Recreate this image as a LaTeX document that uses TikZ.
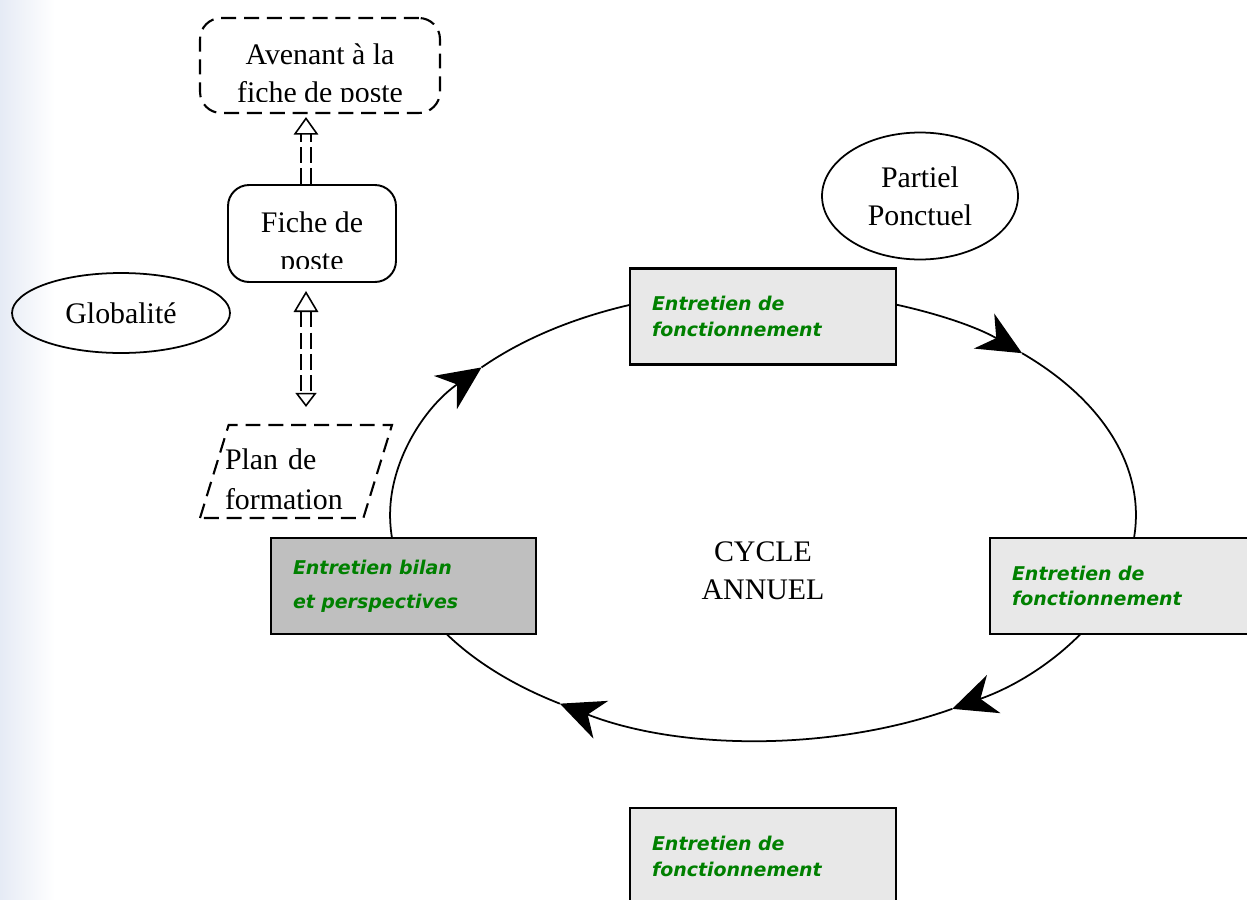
\documentclass[tikz,border=0pt]{standalone}
\usepackage{fontspec}
\setmainfont{Liberation Serif}
\newfontfamily\entfont{DejaVu Sans}
\usetikzlibrary{arrows.meta, calc, shapes.geometric}
\definecolor{entgreen}{rgb}{0.0, 0.5, 0.0}
\definecolor{fonctgrey}{rgb}{0.91, 0.91, 0.91}
\definecolor{bilangrey}{rgb}{0.75, 0.75, 0.75}
\definecolor{stripblue}{rgb}{0.9, 0.92, 0.96}

\begin{document}
\begin{tikzpicture}[x=0.02cm, y=0.02cm]
		\useasboundingbox (0,0) rectangle (1247,-899);
		\shade[left color=stripblue, right color=white] (0,0) rectangle (55,-899);
		
		\coordinate (cyc) at (763,-515);
		\begin{scope}[cyclearc/.style={line width=1pt, -{Stealth[length=25pt, width=23pt, inset=8pt]}}]
		\draw[cyclearc] ($(cyc)+(139:7.46cm and 4.5cm)$) arc[start angle=139, end angle=46, x radius=7.46cm, y radius=4.5cm];
		\draw[cyclearc] ($(cyc)+(46:7.46cm and 4.5cm)$) arc[start angle=46, end angle=-59.5, x radius=7.46cm, y radius=4.5cm];
		\draw[cyclearc] ($(cyc)+(-59.5:7.46cm and 4.5cm)$) arc[start angle=-59.5, end angle=-123, x radius=7.46cm, y radius=4.5cm];
		\draw[cyclearc] ($(cyc)+(-123:7.46cm and 4.5cm)$) arc[start angle=-123, end angle=-221, x radius=7.46cm, y radius=4.5cm];
		\end{scope}
		
		\begin{scope}[every node/.style={inner sep=0, font=\fontsize{17}{21.5}\selectfont, align=center},
			dashbox/.style={draw, line width=1.2pt, dash pattern=on 8.5pt off 4.5pt},
			entbox/.style={draw, line width=1.4pt, minimum height=1.92cm, inner xsep=0.44cm, align=left, font=\entfont\bfseries\itshape\fontsize{10.8}{14.7}\selectfont, text=entgreen}]
		\node[dashbox, rounded corners=12pt, minimum width=4.8cm, minimum height=1.9cm] (avenant) at (320,-65.5) {};
		\node[draw, line width=1.1pt, rounded corners=12pt, minimum width=3.36cm, minimum height=1.94cm] (fiche) at (312,-233.5) {};
		\node[draw, ellipse, line width=1pt, minimum width=4.36cm, minimum height=1.6cm] (globalite) at (121,-313) {Globalit\'e};
		\node[draw, ellipse, line width=1pt, minimum width=3.92cm, minimum height=2.54cm] (partiel) at (920,-196) {Partiel\\Ponctuel};
		\node[dashbox, trapezium, inner sep=2pt, trapezium stretches=true, trapezium left angle=78, trapezium right angle=102, minimum width=3.84cm, minimum height=1.86cm] (plan) at (296,-471.5) {};
		\node[text width=2.84cm, align=left, font=\fontsize{17}{23}\selectfont] (plantext) at (296,-479) {Plan de\\formation};
		\node (cycle) at (763,-571) {CYCLE\\ANNUEL};
		
		\node[entbox, fill=fonctgrey, minimum width=5.32cm, text width=4.44cm] (fonct1) at (763,-316.5) {Entretien de\\fonctionnement};
		\node[entbox, fill=fonctgrey, minimum width=5.2cm, text width=4.32cm] (fonct2) at (1120,-586) {Entretien de\\fonctionnement};
		\node[entbox, fill=bilangrey, minimum width=5.3cm, text width=4.42cm, font=\entfont\bfseries\itshape\fontsize{10.8}{19.3}\selectfont] (bilan) at (403.5,-586) {Entretien bilan\\et perspectives};
		\node[entbox, fill=fonctgrey, minimum width=5.32cm, text width=4.44cm] (fonct3) at (763,-856) {Entretien de\\fonctionnement};
		
		\begin{scope}
		\clip ($(avenant.south west)+(0,13)$) rectangle (avenant.north east);
		\node (avenanttext) at ($(avenant.center)+(0,-11)$) {Avenant \`a la\\fiche de poste};
		\end{scope}
		\begin{scope}
		\clip ($(fiche.south west)+(0,14)$) rectangle (fiche.north east);
		\node (fichetext) at ($(fiche.center)+(0,-11)$) {Fiche de\\poste};
		\end{scope}
		\end{scope}
		
		\begin{scope}[dblarrow/.style={line width=0.9pt, dash pattern=on 9pt off 3pt, double, double distance=5pt}]
		\draw[dblarrow, -{Triangle[open, length=10pt, width=14pt]}] ($(fiche.north)+(-6,0)$) -- ($(avenant.south)+(-14,-3)$);
		\draw[dblarrow, {Triangle[open, length=12pt, width=14pt]}-{Triangle[open, length=8pt, width=12pt]}] ($(fiche.south)+(-6,-8)$) -- ($(plan.north)+(10,17)$);
		\end{scope}
\end{tikzpicture}
\end{document}
